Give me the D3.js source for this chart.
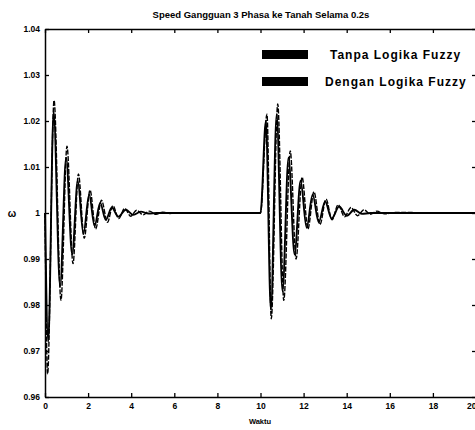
<html>
<head>
    <meta charset="utf-8">
    <script src="https://d3js.org/d3.v7.min.js"></script>
    <style>
        body { margin: 0; background: #fff; }
        text { font-family: "Liberation Sans", Arial, sans-serif; font-weight: bold; }
    </style>
</head>
<body>
    <svg id="chart" width="475" height="430"></svg>
    <script>
        // Tanpa Logika Fuzzy
        let tanpaT = [0, 0.12, 0.42, 0.74, 1.02, 1.30, 1.55, 1.82, 2.09, 2.35, 2.62, 2.9, 3.15, 3.42, 3.7, 3.98, 4.25, 4.55, 4.85, 5.15, 5.45, 5.8, 6.2,
                      10.0, 10.3, 10.5, 10.8, 11.08, 11.38, 11.65, 11.93, 12.2, 12.48, 12.76, 13.04, 13.32, 13.6, 13.9, 14.2, 14.5, 14.8, 15.1, 15.4, 15.75, 16.2, 20]
        let tanpaV = [1, 0.965, 1.0245, 0.981, 1.0145, 0.989, 1.0085, 0.9945, 1.005, 0.9965, 1.0028, 0.998, 1.0016, 0.9988, 1.001, 0.9993, 1.0006, 0.9996, 1.0004, 0.9997, 1.0002, 0.9999, 1,
                      1, 1.0215, 0.977, 1.0237, 0.981, 1.0135, 0.990, 1.0078, 0.9965, 1.0046, 0.9975, 1.003, 0.9985, 1.0018, 0.9992, 1.0012, 0.9994, 1.0007, 0.9997, 1.0004, 0.9998, 1.0001, 1]

        // Dengan Logika Fuzzy
        let denganT = [0, 0.15, 0.40, 0.70, 0.98, 1.26, 1.52, 1.78, 2.05, 2.3, 2.56, 2.82, 3.1, 3.4, 3.75, 4.1, 4.45, 4.8, 5.2,
                       10.0, 10.25, 10.48, 10.75, 11.02, 11.3, 11.58, 11.86, 12.14, 12.42, 12.7, 13.0, 13.3, 13.65, 14.0, 14.35, 14.7, 15.1, 20]
        let denganV = [1, 0.972, 1.022, 0.984, 1.012, 0.991, 1.007, 0.9955, 1.004, 0.9972, 1.0022, 0.9985, 1.0012, 0.9992, 1.0007, 0.9996, 1.0003, 0.9999, 1,
                       1, 1.020, 0.979, 1.0215, 0.983, 1.012, 0.991, 1.007, 0.9968, 1.004, 0.998, 1.0025, 0.9988, 1.0014, 0.9994, 1.0007, 0.9998, 1, 1]

        let xTicks = [0, 2, 4, 6, 8, 10, 12, 14, 16, 18, 20]
        let yTicks = [0.96, 0.97, 0.98, 0.99, 1, 1.01, 1.02, 1.03, 1.04]
        let yLabels = ["0.96", "0.97", "0.98", "0.99", "1", "1.01", "1.02", "1.03", "1.04"]
        let names = ["Tanpa Logika Fuzzy", "Dengan Logika Fuzzy"]

        let svg = d3.select("#chart"),
            margin = {top: 29, left: 45, bottom: 33, right: -1},
            width = +svg.attr("width"),
            height = +svg.attr("height")

        let x = d3.scaleLinear().domain([0, 20]).range([margin.left, width - margin.right])
        let y = d3.scaleLinear().domain([0.96, 1.04]).range([height - margin.bottom, margin.top])

        let line = d3.line()
            .x(d => x(d[0]))
            .y(d => y(d[1]))
            .curve(d3.curveMonotoneX)

        let tanpa = tanpaT.map((t, i) => [t, tanpaV[i]])
        let dengan = denganT.map((t, i) => [t, denganV[i]])

        svg.append("path").datum(tanpa)
            .attr("d", line)
            .attr("fill", "none")
            .attr("stroke", "#000")
            .attr("stroke-width", 1.4)
            .attr("stroke-dasharray", "5,1.5")

        svg.append("path").datum(dengan)
            .attr("d", line)
            .attr("fill", "none")
            .attr("stroke", "#000")
            .attr("stroke-width", 1.9)

        // axes, matlab style inward ticks on all sides
        let fmt = d => yLabels[yTicks.indexOf(d)]
        let axBottom = svg.append("g")
            .attr("transform", `translate(0,${y(0.96)})`)
            .call(d3.axisBottom(x).tickValues(xTicks).tickSizeInner(-4).tickSizeOuter(0).tickPadding(6))
        let axLeft = svg.append("g")
            .attr("transform", `translate(${x(0)},0)`)
            .call(d3.axisLeft(y).tickValues(yTicks).tickFormat(fmt).tickSizeInner(-4).tickSizeOuter(0).tickPadding(5))
        svg.append("g")
            .attr("transform", `translate(0,${y(1.04)})`)
            .call(d3.axisTop(x).tickValues(xTicks).tickSizeInner(-4).tickSizeOuter(0).tickFormat(""))
        svg.append("g")
            .attr("transform", `translate(${x(20)},0)`)
            .call(d3.axisRight(y).tickValues(yTicks).tickSizeInner(-4).tickSizeOuter(0).tickFormat(""))

        svg.selectAll(".domain").attr("stroke", "#000").attr("stroke-width", 1.5)
        svg.selectAll(".tick line").attr("stroke", "#000").attr("stroke-width", 1.3)
        axBottom.selectAll("text").style("font-size", "8.5px").attr("fill", "#000")
            .filter(d => d == 20).attr("text-anchor", "end")
        axLeft.selectAll("text").style("font-size", "8.5px").attr("fill", "#000")

        // title and axis labels
        svg.append("text")
            .attr("x", 261).attr("y", 18)
            .attr("text-anchor", "middle")
            .style("font-size", "9.5px")
            .text("Speed Gangguan 3 Phasa ke Tanah Selama 0.2s")

        svg.append("text")
            .attr("x", 260).attr("y", 424)
            .attr("text-anchor", "middle")
            .style("font-size", "7.5px")
            .text("Waktu")

        svg.append("text")
            .attr("x", 12).attr("y", 217)
            .attr("text-anchor", "middle")
            .style("font-size", "10px")
            .text("ω")

        // legend
        let legend = svg.append("g")
        names.forEach((n, i) => {
            legend.append("rect")
                .attr("x", 262).attr("y", 50 + i * 27)
                .attr("width", 46).attr("height", 9)
                .attr("fill", "#000")
            legend.append("text")
                .attr("x", i == 0 ? 330 : 325).attr("y", 59 + i * 27)
                .style("font-size", "12px")
                .style("letter-spacing", "1px")
                .text(n)
        })
    </script>
</body>
</html>
